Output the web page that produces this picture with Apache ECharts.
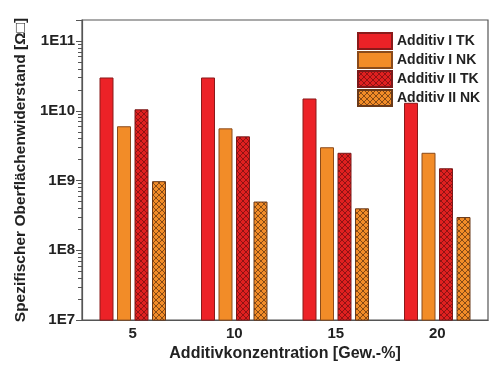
<!DOCTYPE html>
<html>
<head>
<meta charset="utf-8">
<script src="https://cdn.jsdelivr.net/npm/echarts@6/dist/echarts.min.js"></script>
<style>
  html, body { margin: 0; padding: 0; background: #fff; }
  #chart { width: 496px; height: 367px; }
</style>
</head>
<body>
<div id="chart"></div>
<script>
// Daten
var categories = ['5', '10', '15', '20'];
var seriesNames = ['Additiv I TK', 'Additiv I NK', 'Additiv II TK', 'Additiv II NK'];
var additivITK = [3.0e10, 3.0e10, 1.5e10, 1.3e10];
var additivINK = [6.0e9, 5.6e9, 3.0e9, 2.5e9];
var additivIITK = [1.05e10, 4.3e9, 2.5e9, 1.5e9];
var additivIINK = [9.8e8, 5.0e8, 4.0e8, 3.0e8];

// Nebenstriche 2..9 je Dekade (log)
var minorTicks = [];
for (var d = 7; d <= 11; d++) {
  for (var m = 2; m <= 9; m++) {
    var v = m * Math.pow(10, d);
    if (v <= 2e11) minorTicks.push(v);
  }
}

// Kreuzschraffur als Canvas-Muster
function hatch(bg, line) {
  var c = document.createElement('canvas');
  c.width = 6;
  c.height = 6;
  var ctx = c.getContext('2d');
  ctx.fillStyle = bg;
  ctx.fillRect(0, 0, 6, 6);
  ctx.strokeStyle = line;
  ctx.lineWidth = 0.8;
  ctx.beginPath();
  ctx.moveTo(0, 0); ctx.lineTo(6, 6);
  ctx.moveTo(6, 0); ctx.lineTo(0, 6);
  ctx.stroke();
  return { image: c, repeat: 'repeat' };
}

var font = 'Liberation Sans, Arial, sans-serif';
var chart = echarts.init(document.getElementById('chart'));

function bar(name, data, color, border) {
  return {
    name: name,
    type: 'bar',
    data: data,
    barWidth: 14,
    barGap: '25%',
    itemStyle: { color: color, borderColor: border, borderWidth: 1 }
  };
}

var option = {
  animation: false,
  grid: {
    left: 82, right: 8, top: 20, bottom: 40,
    show: true, borderColor: '#555', borderWidth: 1.2
  },
  legend: {
    orient: 'vertical',
    left: 352,
    top: 27,
    icon: 'rect',
    itemWidth: 34,
    itemHeight: 16,
    itemGap: 1,
    textStyle: { fontFamily: font, fontWeight: 'bold', fontSize: 14, color: '#222' },
    data: seriesNames
  },
  xAxis: {
    type: 'category',
    data: categories,
    name: 'Additivkonzentration [Gew.-%]',
    nameLocation: 'middle',
    nameGap: 25,
    nameTextStyle: { fontFamily: font, fontWeight: 'bold', fontSize: 16, color: '#222' },
    axisLine: { lineStyle: { color: '#555', width: 1.2 } },
    axisTick: { show: false },
    axisLabel: { fontFamily: font, fontWeight: 'bold', fontSize: 15, color: '#222', margin: 6 }
  },
  yAxis: [{
    type: 'log',
    min: 1e7,
    max: 2e11,
    name: 'Spezifischer Oberflächenwiderstand [Ω□]',
    nameLocation: 'middle',
    nameGap: 53,
    nameTextStyle: { fontFamily: font, fontWeight: 'bold', fontSize: 15.5, color: '#222' },
    axisLine: { show: true, lineStyle: { color: '#555', width: 1.2 } },
    axisTick: { show: true, inside: false, length: 6, lineStyle: { color: '#555' } },
    splitLine: { show: false },
    axisLabel: {
      fontFamily: font, fontWeight: 'bold', fontSize: 15, color: '#222', margin: 7,
      formatter: function (v) {
        var e = Math.log10(v);
        return Math.abs(e - Math.round(e)) < 1e-6 ? '1E' + Math.round(e) : '';
      }
    }
  }, {
    type: 'log',
    min: 1e7,
    max: 2e11,
    position: 'left',
    axisLine: { show: false },
    axisTick: { show: true, inside: false, length: 4, customValues: minorTicks, lineStyle: { color: '#555' } },
    axisLabel: { show: false },
    splitLine: { show: false }
  }],
  series: [
    bar(seriesNames[0], additivITK, '#ec2227', '#8a1a1a'),
    bar(seriesNames[1], additivINK, '#f28c28', '#8a4a1a'),
    bar(seriesNames[2], additivIITK, hatch('#e02020', '#7a1010'), '#7a1a1a'),
    bar(seriesNames[3], additivIINK, hatch('#f28c28', '#6a3a10'), '#6a3a1a')
  ]
};

chart.setOption(option);
window.addEventListener('resize', function () {
  chart.resize();
});
</script>
</body>
</html>
